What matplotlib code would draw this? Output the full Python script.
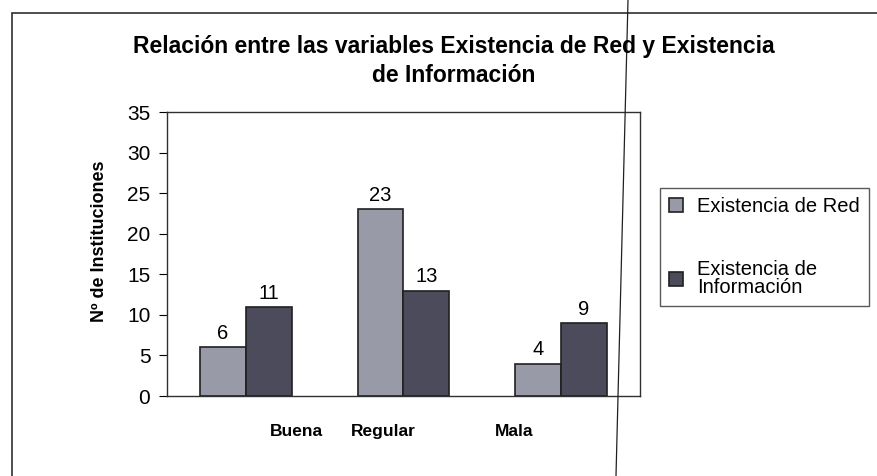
import matplotlib.pyplot as plt
import numpy as np
from matplotlib.lines import Line2D
from matplotlib.patches import Rectangle

# Data
categories = ['Buena', 'Regular', 'Mala']
red = [6, 23, 4]
info = [11, 13, 9]
series_names = ['Existencia de Red', 'Existencia de\nInformación']

plt.rcParams['font.family'] = ['Liberation Sans', 'DejaVu Sans']

fig = plt.figure(figsize=(8.78, 4.76), dpi=100)
ax = fig.add_axes([167 / 878, 1 - 396 / 476, 473 / 878, 284 / 476])

x = np.arange(len(categories))
w = 0.29
b1 = ax.bar(x - w / 2, red, w, color='#999aa8', edgecolor='#202020', linewidth=1.2,
            label=series_names[0])
b2 = ax.bar(x + w / 2, info, w, color='#4b4b5c', edgecolor='#202020', linewidth=1.2,
            label=series_names[1])

for bars in (b1, b2):
    for r in bars:
        ax.annotate(str(int(r.get_height())), (r.get_x() + r.get_width() / 2, r.get_height()),
                    xytext=(0, 3), textcoords='offset points', ha='center', va='bottom',
                    fontsize=14.5)

ax.set_xlim(-0.5, 2.5)
ax.set_ylim(0, 35)
ax.set_yticks(range(0, 36, 5))
ax.tick_params(axis='y', direction='out', length=6, labelsize=15, pad=6)

# category labels sit off-centre in the original
ax.set_xticks([0.32, 0.87, 1.70])
ax.set_xticklabels(categories, fontweight='bold', fontsize=12.5)
ax.tick_params(axis='x', length=0, pad=20)

ax.set_ylabel('Nº de Instituciones', fontsize=13, fontweight='bold')
ax.yaxis.set_label_coords(-0.125, 0.546)
for s in ax.spines.values():
    s.set_linewidth(1.0)
    s.set_color('#303030')

fig.text(454 / 878, 1 - 61 / 476,
         'Relación entre las variables Existencia de Red y Existencia\nde Información',
         ha='center', va='center', fontsize=16.5, fontweight='bold', linespacing=1.35)

leg = fig.legend(loc='upper left', bbox_to_anchor=(660 / 878, 1 - 188 / 476),
                 fontsize=14.5, handlelength=0.7, handleheight=0.7, handletextpad=0.7,
                 labelspacing=2.2, borderpad=0.45, borderaxespad=0, frameon=True,
                 fancybox=False)
leg.get_texts()[1].set_linespacing(0.9)
leg.get_frame().set_edgecolor('#303030')
leg.get_frame().set_linewidth(1.0)

# outer chart frame and scan crease
fig.add_artist(Rectangle((12 / 878, -0.01), 1.0, 1 - 13 / 476 + 0.01, transform=fig.transFigure,
                         fill=False, edgecolor='#303030', linewidth=1.2))
fig.add_artist(Line2D([628 / 878, 616 / 878], [1, 0], transform=fig.transFigure,
                      color='#202020', linewidth=0.9))

plt.savefig('out.png')
